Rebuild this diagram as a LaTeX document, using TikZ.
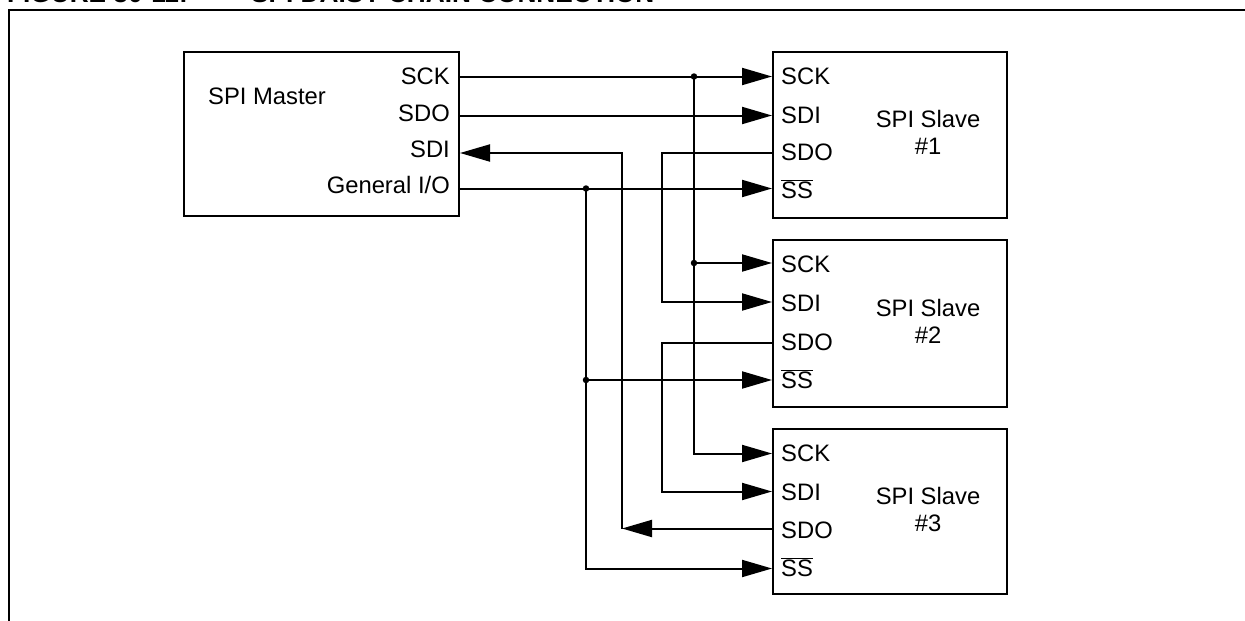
\documentclass[tikz,border=0pt]{standalone}
\usepackage{fontspec}
\setmainfont{Liberation Sans}
\usetikzlibrary{arrows.meta}
\tikzset{
  box/.style={draw, rectangle, line width=2pt, inner sep=0pt, outer sep=0pt, anchor=north west},
  wire/.style={line width=2pt},
  arrowed/.style={-{Triangle[length=30pt,width=17pt]}, line width=2pt},
  dot/.style={circle, fill=black, inner sep=0pt, minimum size=6.5pt},
  pinl/.style={inner sep=0pt, anchor=base west},
  pinr/.style={inner sep=0pt, anchor=base east},
  title/.style={inner sep=0pt, anchor=base west, font=\fontsize{26.2}{30}\selectfont\bfseries},
  every node/.append style={font=\fontsize{23.8}{28}\selectfont}
}
\begin{document}
\begin{tikzpicture}[x=1pt, y=-1pt]
\path[clip, use as bounding box] (0,0) rectangle (1245,621);
\node[title] (fig) at (7,2.5) {FIGURE 30-11:};
\node[title] (cap) at (251,2.5) {SPI DAISY CHAIN CONNECTION};
\coordinate (frameb) at (8.5,625);
\coordinate (framec) at (8.5,10);
\coordinate (framer) at (1250,10);
\draw[wire] (frameb) -- (framec) -- (framer);
% boxes
\node[box, minimum width=275pt, minimum height=164pt] (master) at (184,52) {};
\node[box, minimum width=234pt, minimum height=166pt] (slavea) at (773,52) {};
\node[box, minimum width=234pt, minimum height=167pt] (slaveb) at (773,240) {};
\node[box, minimum width=234pt, minimum height=165pt] (slavec) at (773,429) {};
% master texts
\node[pinl] (mname) at (208,104) {SPI Master};
\node[pinr] (msckt) at (450,84.5) {SCK};
\node[pinr] (msdot) at (450,121.5) {SDO};
\node[pinr] (msdit) at (450,157.5) {SDI};
\node[pinr] (mgiot) at (450,193.5) {General I/O};
% slave texts
\node[pinl] (asck) at (781,84.5) {SCK};
\node[pinl] (asdi) at (781,123) {SDI};
\node[pinl] (asdo) at (781,160) {SDO};
\node[pinl] (ass) at (781,198.5) {$\overline{\mbox{SS}}$};
\node[pinl] (bsck) at (781,272) {SCK};
\node[pinl] (bsdi) at (781,311) {SDI};
\node[pinl] (bsdo) at (781,350) {SDO};
\node[pinl] (bss) at (781,388) {$\overline{\mbox{SS}}$};
\node[pinl] (csck) at (781,461.5) {SCK};
\node[pinl] (csdi) at (781,500) {SDI};
\node[pinl] (csdo) at (781,538) {SDO};
\node[pinl] (css) at (781,576) {$\overline{\mbox{SS}}$};
\node[align=center, inner sep=0pt] (aname) at (928,132.5) {SPI Slave\\[-1pt]\#1};
\node[align=center, inner sep=0pt] (bname) at (928,321.2) {SPI Slave\\[-1pt]\#2};
\node[align=center, inner sep=0pt] (cname) at (928,509.5) {SPI Slave\\[-1pt]\#3};
% pins
\coordinate (msck) at (459,76.5);
\coordinate (msdo) at (459,115.5);
\coordinate (msdi) at (460,153);
\coordinate (mgio) at (459,188.5);
\coordinate (apsck) at (772,76.5);
\coordinate (apsdi) at (772,115.5);
\coordinate (apsdo) at (772,153);
\coordinate (apss) at (772,188.5);
\coordinate (bpsck) at (772,263);
\coordinate (bpsdi) at (772,302);
\coordinate (bpsdo) at (772,342.5);
\coordinate (bpss) at (772,380);
\coordinate (cpsck) at (772,453.5);
\coordinate (cpsdi) at (772,491.5);
\coordinate (cpsdo) at (772,528.5);
\coordinate (cpss) at (772,568.5);
\coordinate (sdoback) at (622,528.5);
% junctions
\node[dot] (jscka) at (694,76.5) {};
\node[dot] (jsckb) at (694,263) {};
\node[dot] (jssa) at (586,188.5) {};
\node[dot] (jssb) at (586,380) {};
% connectors
\draw[arrowed] (msck) -- (apsck);
\draw[arrowed] (msdo) -- (apsdi);
\draw[arrowed] (mgio) -- (apss);
\draw[arrowed] (jsckb) -- (bpsck);
\draw[arrowed] (jssb) -- (bpss);
\draw[arrowed] (jscka.center) |- (cpsck);
\draw[arrowed] (jssa.center) |- (cpss);
\draw[arrowed] (apsdo) -- (662,153) |- (bpsdi);
\draw[arrowed] (bpsdo) -- (662,342.5) |- (cpsdi);
\draw[arrowed] (cpsdo) -- (sdoback);
\draw[arrowed] (sdoback) |- (msdi);
\end{tikzpicture}
\end{document}
